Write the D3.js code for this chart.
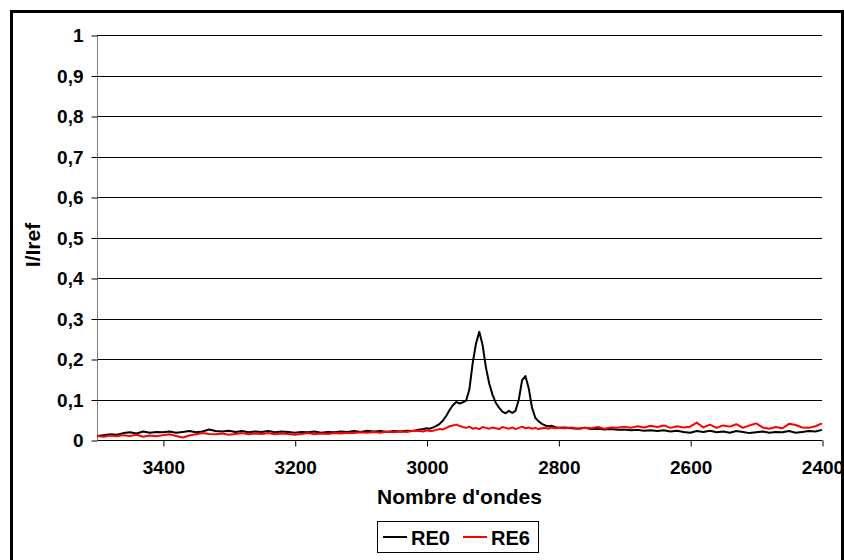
<!DOCTYPE html>
<html>
<head>
<meta charset="utf-8">
<script src="https://cdn.jsdelivr.net/npm/d3@7"></script>
<style>
  html, body { margin: 0; padding: 0; background: #fff; }
  svg { display: block; }
  text { font-family: "Liberation Sans", Arial, sans-serif; font-weight: bold; fill: #000; }
</style>
</head>
<body>
<svg id="chart" width="844" height="560"></svg>
<script>
// ---- data ----
const wavenumbers = [
  3500,3490,3480,3470,3460,3450,3440,3430,3420,3410,
  3400,3390,3380,3370,3360,3350,3340,3330,3320,3310,
  3300,3290,3280,3270,3260,3250,3240,3230,3220,3210,
  3200,3190,3180,3170,3160,3150,3140,3130,3120,3110,
  3100,3090,3080,3070,3060,3050,3040,3030,3020,3010,
  3005,3000,2995,2990,2985,2980,2975,2970,2965,2960,
  2955,2950,2945,2940,2935,2930,2925,2920,2915,2910,
  2905,2900,2895,2890,2885,2880,2875,2870,2865,2860,
  2855,2850,2845,2840,2835,2830,2825,2820,2815,2810,
  2805,2800,
  2790,2780,2770,2760,2750,2740,2730,2720,2710,2700,
  2690,2680,2670,2660,2650,2640,2630,2620,2610,2600,
  2590,2580,2570,2560,2550,2540,2530,2520,2510,2500,
  2490,2480,2470,2460,2450,2440,2430,2420,2410,2400
];
const re0 = [
  0.010,0.012,0.014,0.013,0.017,0.019,0.016,0.021,0.018,0.020,
  0.019,0.021,0.018,0.020,0.022,0.019,0.021,0.026,0.022,0.021,
  0.023,0.020,0.022,0.019,0.021,0.020,0.022,0.019,0.021,0.020,
  0.018,0.020,0.019,0.021,0.018,0.020,0.019,0.021,0.020,0.022,
  0.020,0.023,0.021,0.022,0.020,0.022,0.021,0.023,0.022,0.026,
  0.027,0.029,0.028,0.031,0.035,0.040,0.048,0.060,0.074,0.086,
  0.094,0.090,0.093,0.097,0.125,0.190,0.238,0.267,0.235,0.180,
  0.140,0.112,0.092,0.080,0.070,0.066,0.072,0.067,0.072,0.100,
  0.148,0.158,0.128,0.080,0.055,0.046,0.040,0.036,0.034,0.035,
  0.032,0.030,
  0.031,0.029,0.028,0.030,0.027,0.028,0.026,0.027,0.025,0.026,
  0.024,0.025,0.023,0.024,0.022,0.024,0.021,0.023,0.020,0.018,
  0.022,0.020,0.023,0.019,0.021,0.018,0.022,0.020,0.017,0.019,
  0.021,0.018,0.020,0.019,0.022,0.018,0.020,0.022,0.021,0.025
];
const re6 = [
  0.010,0.008,0.011,0.009,0.012,0.010,0.013,0.008,0.011,0.009,
  0.012,0.014,0.010,0.006,0.011,0.014,0.017,0.015,0.014,0.016,
  0.013,0.015,0.017,0.014,0.016,0.015,0.017,0.014,0.016,0.015,
  0.013,0.015,0.017,0.014,0.016,0.015,0.017,0.016,0.018,0.017,
  0.019,0.018,0.020,0.018,0.021,0.019,0.021,0.020,0.023,0.022,
  0.021,0.024,0.022,0.023,0.025,0.027,0.026,0.030,0.034,0.036,
  0.038,0.035,0.032,0.030,0.033,0.028,0.030,0.027,0.032,0.030,
  0.028,0.031,0.029,0.027,0.032,0.030,0.028,0.031,0.027,0.030,
  0.033,0.029,0.031,0.028,0.030,0.027,0.029,0.030,0.028,0.031,
  0.029,0.030,
  0.029,0.031,0.028,0.030,0.029,0.032,0.028,0.031,0.030,0.033,
  0.030,0.034,0.031,0.035,0.032,0.036,0.030,0.034,0.031,0.033,
  0.043,0.031,0.038,0.030,0.036,0.033,0.039,0.030,0.036,0.041,
  0.031,0.028,0.032,0.029,0.040,0.037,0.031,0.030,0.034,0.041
];
const seriesNames = ["RE0", "RE6"];
const seriesColors = ["#000000", "#ff0000"];
const xTicks = [3400, 3200, 3000, 2800, 2600, 2400];
const yTicks = [0, 0.1, 0.2, 0.3, 0.4, 0.5, 0.6, 0.7, 0.8, 0.9, 1];
const xTitle = "Nombre d'ondes";
const yTitle = "I/Iref";

// ---- layout ----
const svg = d3.select("#chart");
const plot = { left: 97, right: 822, top: 35, bottom: 440 };

// outer frame
svg.append("rect")
  .attr("x", 11.5).attr("y", 11.5)
  .attr("width", 831).attr("height", 570)
  .attr("fill", "#fff").attr("stroke", "#000").attr("stroke-width", 3);

const x = d3.scaleLinear().domain([3500, 2400]).range([plot.left, plot.right]);
const y = d3.scaleLinear().domain([0, 1]).range([plot.bottom, plot.top]);

// gridlines
svg.append("g")
  .selectAll("line")
  .data(yTicks.filter(d => d > 0))
  .join("line")
  .attr("x1", plot.left).attr("x2", plot.right)
  .attr("y1", d => Math.round(y(d)) + 0.5).attr("y2", d => Math.round(y(d)) + 0.5)
  .attr("stroke", "#000").attr("stroke-width", 1);

// y axis
const yAxis = d3.axisLeft(y)
  .tickValues(yTicks)
  .tickSize(6)
  .tickPadding(8)
  .tickFormat(d => d3.format(".1~f")(d).replace(".", ","));
const gy = svg.append("g")
  .attr("transform", `translate(${plot.left + 0.5},0.5)`)
  .call(yAxis);
gy.select(".domain").attr("stroke", "#808080").attr("d", `M0,${plot.top}V${plot.bottom}`);
gy.selectAll(".tick line").attr("stroke", "#000");
gy.selectAll(".tick text").attr("font-size", 19).attr("font-family", "Liberation Sans, Arial, sans-serif").attr("font-weight", "bold");

// x axis
const xAxis = d3.axisBottom(x)
  .tickValues(xTicks)
  .tickSize(6)
  .tickPadding(14)
  .tickFormat(d3.format("d"));
const gx = svg.append("g")
  .attr("transform", `translate(0.5,${plot.bottom + 0.5})`)
  .call(xAxis);
gx.select(".domain").attr("stroke", "#000").attr("d", `M${plot.left},0H${plot.right}`);
gx.selectAll(".tick line").attr("stroke", "#000");
gx.selectAll(".tick text").attr("font-size", 19).attr("font-family", "Liberation Sans, Arial, sans-serif").attr("font-weight", "bold");

// lines
const series = [re0, re6];
const line = d3.line()
  .x((d, i) => x(wavenumbers[i]))
  .y(d => y(d));
series.forEach((vals, k) => {
  svg.append("path")
    .datum(vals)
    .attr("fill", "none")
    .attr("stroke", seriesColors[k])
    .attr("stroke-width", 2)
    .attr("stroke-linejoin", "round")
    .attr("d", line);
});

// axis titles
svg.append("text")
  .attr("x", (plot.left + plot.right) / 2)
  .attr("y", 504)
  .attr("text-anchor", "middle")
  .attr("font-size", 21)
  .text(xTitle);
svg.append("text")
  .attr("transform", `translate(40,245) rotate(-90)`)
  .attr("text-anchor", "middle")
  .attr("font-size", 21)
  .text(yTitle);

// legend
const lg = svg.append("g");
lg.append("rect")
  .attr("x", 377.5).attr("y", 521.5)
  .attr("width", 161).attr("height", 31)
  .attr("fill", "#fff").attr("stroke", "#000").attr("stroke-width", 1);
const legendItems = [
  { x1: 383, x2: 407, tx: 411 },
  { x1: 463, x2: 487, tx: 491 }
];
seriesNames.forEach((name, k) => {
  lg.append("line")
    .attr("x1", legendItems[k].x1).attr("x2", legendItems[k].x2)
    .attr("y1", 537).attr("y2", 537)
    .attr("stroke", seriesColors[k]).attr("stroke-width", 2);
  lg.append("text")
    .attr("x", legendItems[k].tx).attr("y", 545)
    .attr("font-size", 20)
    .text(name);
});
</script>
</body>
</html>
